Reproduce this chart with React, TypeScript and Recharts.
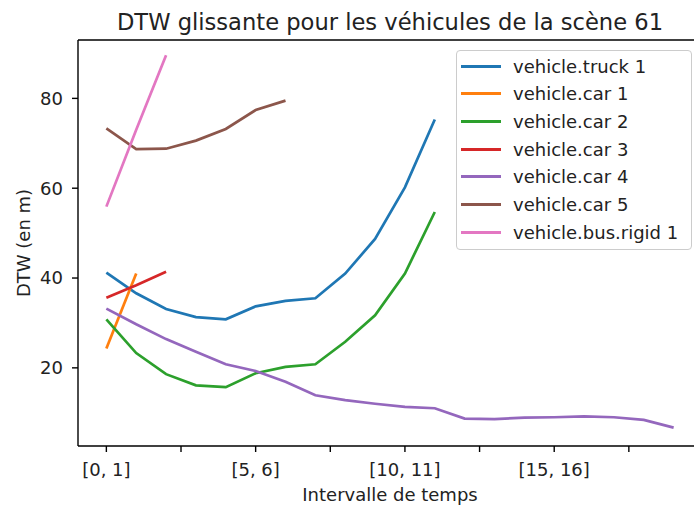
import React from "react";
import {
  LineChart,
  Line,
  XAxis,
  YAxis,
  Legend,
  ReferenceLine,
} from "recharts";

// Intervalles de temps (catégories de l'axe x)
const intervals = [
  "[0, 1]", "[1, 2]", "[2, 3]", "[3, 4]", "[4, 5]",
  "[5, 6]", "[6, 7]", "[7, 8]", "[8, 9]", "[9, 10]",
  "[10, 11]", "[11, 12]", "[12, 13]", "[13, 14]", "[14, 15]",
  "[15, 16]", "[16, 17]", "[17, 18]", "[18, 19]", "[19, 20]",
];

// DTW (en m) par véhicule
const truck1 = [41.2, 36.6, 33.1, 31.3, 30.8, 33.7, 34.9, 35.5, 41.0, 48.7, 60.2, 75.3];
const car1 = [24.3, 41.0];
const car2 = [30.8, 23.3, 18.6, 16.1, 15.7, 18.8, 20.2, 20.8, 25.8, 31.7, 41.0, 54.7];
const car3 = [35.6, 38.4, 41.4];
const car4 = [33.2, 29.7, 26.4, 23.6, 20.8, 19.3, 16.9, 13.9, 12.8, 12.0, 11.3, 11.0, 8.7, 8.6, 8.9, 9.0, 9.2, 9.0, 8.4, 6.7];
const car5 = [73.3, 68.7, 68.8, 70.6, 73.2, 77.4, 79.5];
const bus1 = [55.9, 73.0, 89.6];

const yTicks = [20, 40, 60, 80];
const xTicks = [0, 2.5, 5, 7.5, 10, 12.5, 15, 17.5];

const series = [
  { key: "truck1", name: "vehicle.truck 1", values: truck1, color: "#1f77b4" },
  { key: "car1", name: "vehicle.car 1", values: car1, color: "#ff7f0e" },
  { key: "car2", name: "vehicle.car 2", values: car2, color: "#2ca02c" },
  { key: "car3", name: "vehicle.car 3", values: car3, color: "#d62728" },
  { key: "car4", name: "vehicle.car 4", values: car4, color: "#9467bd" },
  { key: "car5", name: "vehicle.car 5", values: car5, color: "#8c564b" },
  { key: "bus1", name: "vehicle.bus.rigid 1", values: bus1, color: "#e377c2" },
];

const data = intervals.map((label, i) => {
  const row: Record<string, number | string | undefined> = { idx: i, label };
  series.forEach((s) => {
    row[s.key] = s.values[i];
  });
  return row;
});

const FONT = "DejaVu Sans";
const TEXT = "#222";

const renderLegend = (props: any) => {
  const { payload = [] } = props;
  // garder l'ordre de tracé (comme matplotlib)
  const order = (e: any) => series.findIndex((s) => s.name === e.value);
  const items = [...payload].sort((a: any, b: any) => order(a) - order(b));
  return (
    <div
      style={{
        position: "relative",
        width: 236,
        height: 200,
        boxSizing: "border-box",
        border: "1px solid #cccccc",
        borderRadius: 4,
        background: "rgba(255,255,255,0.8)",
        fontFamily: FONT,
        fontSize: 18,
        color: TEXT,
      }}
    >
      {items.map((entry: any, i: number) => (
        <div
          key={entry.value}
          style={{
            position: "absolute",
            left: 0,
            top: 15 + i * 27.7 - 11,
            height: 22,
            width: "100%",
            display: "flex",
            alignItems: "center",
          }}
        >
          <div
            style={{
              position: "absolute",
              left: 4,
              width: 40,
              height: 3,
              background: entry.color,
            }}
          />
          <span style={{ position: "absolute", left: 56, whiteSpace: "nowrap" }}>
            {entry.value}
          </span>
        </div>
      ))}
    </div>
  );
};

export default function App() {
  return (
    <div
      style={{
        position: "fixed",
        left: 0,
        top: 0,
        width: 694,
        height: 505,
        overflow: "hidden",
        background: "#fff",
      }}
    >
      <LineChart
        width={720}
        height={505}
        data={data}
        margin={{ top: 40, right: 18, bottom: 0, left: 0 }}
      >
        <XAxis
          dataKey="idx"
          type="number"
          domain={[-0.95, 19.95]}
          ticks={xTicks}
          allowDataOverflow
          height={59}
          tickSize={6}
          tickMargin={11}
          tickFormatter={(v: number) => (Number.isInteger(v) ? intervals[v] : "")}
          tick={{ fill: TEXT, fontSize: 18, fontFamily: FONT }}
          axisLine={{ stroke: "#000", strokeWidth: 1.4 }}
          tickLine={{ stroke: "#000", strokeWidth: 1.4 }}
        />
        <YAxis
          type="number"
          domain={[2.6, 93]}
          ticks={yTicks}
          allowDataOverflow
          width={78}
          tickSize={6}
          tickMargin={9}
          tick={{ fill: TEXT, fontSize: 18, fontFamily: FONT }}
          axisLine={{ stroke: "#000", strokeWidth: 1.4 }}
          tickLine={{ stroke: "#000", strokeWidth: 1.4 }}
        />
        <ReferenceLine y={93} stroke="#000" strokeWidth={1.4} ifOverflow="extendDomain" />
        <Legend
          layout="vertical"
          align="center"
          verticalAlign="middle"
          content={renderLegend}
          wrapperStyle={{ position: "absolute", left: 456, top: 50, width: 236, height: 200 }}
        />
        {series.map((s) => (
          <Line
            key={s.key}
            type="linear"
            dataKey={s.key}
            name={s.name}
            stroke={s.color}
            strokeWidth={2.7}
            dot={false}
            activeDot={false}
            isAnimationActive={false}
          />
        ))}
      </LineChart>
      <svg
        width={694}
        height={505}
        style={{ position: "absolute", left: 0, top: 0, pointerEvents: "none" }}
        fontFamily={FONT}
      >
        <text x={390} y={30} textAnchor="middle" fontSize={22.6} fill={TEXT}>
          DTW glissante pour les véhicules de la scène 61
        </text>
        <text x={390} y={501} textAnchor="middle" fontSize={18} fill={TEXT}>
          Intervalle de temps
        </text>
        <text
          x={29.5}
          y={243}
          textAnchor="middle"
          fontSize={18}
          fill={TEXT}
          transform="rotate(-90, 29.5, 243)"
        >
          DTW (en m)
        </text>
      </svg>
    </div>
  );
}
